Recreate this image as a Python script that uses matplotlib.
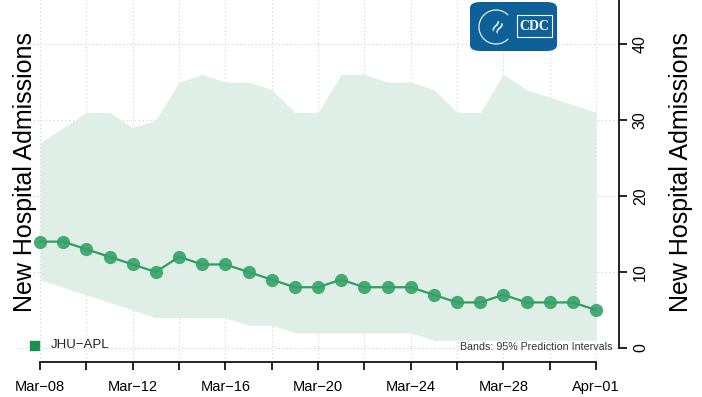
import numpy as np
import matplotlib.pyplot as plt
from matplotlib.patches import FancyBboxPatch, Rectangle, Arc

plt.rcParams['font.family'] = ['Liberation Sans', 'DejaVu Sans']

# daily forecast, Mar-08 .. Apr-01
days = np.arange(25)
tick_labels = ["Mar\u221208", "Mar\u221212", "Mar\u221216", "Mar\u221220",
               "Mar\u221224", "Mar\u221228", "Apr\u221201"]
admissions = [14, 14, 13, 12, 11, 10, 12, 11, 11, 10, 9, 8, 8, 9, 8, 8, 8, 7,
              6, 6, 7, 6, 6, 6, 5]
lower = [9, 8, 7, 6, 5, 4, 4, 4, 4, 3, 3, 2, 2, 2, 2, 2, 2, 1, 1, 1, 1, 1, 1, 1, 1]
upper = [27, 29, 31, 31, 29, 30, 35, 36, 35, 35, 34, 31, 31, 36, 36, 35, 35, 34,
         31, 31, 36, 34, 33, 32, 31]

fig = plt.figure(figsize=(7.02, 3.97), dpi=100, facecolor='w')
W, H = 702, 397
ax = fig.add_axes([18 / W, (H - 362) / H, (619 - 18) / W, 362 / H])
ax.set_xlim(-0.95, 24.99)
ax.set_ylim(-1.84, 45.8)

# grid
for d in range(0, 25, 2):
    ax.axvline(d, color='#c4c4c4', lw=0.7, ls=(0, (1, 3)), zorder=0)
for v in range(0, 50, 10):
    ax.axhline(v, color='#c4c4c4', lw=0.7, ls=(0, (1, 3)), zorder=0)

ax.fill_between(days, lower, upper, color='#dfeee6', lw=0, zorder=1)
ax.plot(days, admissions, color='#2e9e5e', lw=1.6, zorder=2)
ax.plot(days, admissions, 'o', color='#33a266', ms=9.5, mew=0, alpha=0.9, zorder=3)

# axes
for s in ['left', 'top']:
    ax.spines[s].set_visible(False)
ax.spines['bottom'].set_bounds(0, 24)
ax.spines['right'].set_bounds(0, 45.8)
ax.spines['bottom'].set_linewidth(1.2)
ax.spines['right'].set_linewidth(1.2)
ax.yaxis.tick_right()
ax.set_xticks(range(0, 25, 2))
ax.set_xticklabels([tick_labels[i // 4] if i % 4 == 0 else '' for i in range(0, 25, 2)])
ax.set_yticks(range(0, 50, 10))
ax.set_yticklabels([str(v) for v in range(0, 50, 10)], rotation=90, va='center')
ax.tick_params(axis='x', direction='out', length=6, width=1.2, labelsize=10.5, pad=7)
ax.tick_params(axis='y', direction='out', length=6, width=1.2, labelsize=11.5, pad=4)

fig.text(25 / W, 1 - 172 / H, "New Hospital Admissions", rotation=90,
         ha='center', va='center', fontsize=18)
fig.text(681 / W, 1 - 172 / H, "New Hospital Admissions", rotation=90,
         ha='center', va='center', fontsize=18)

# legend and note
fig.patches.append(Rectangle((30 / W, 1 - 350 / H), 9 / W, 9 / H,
                             transform=fig.transFigure, color='#1b8f4c'))
fig.text(51 / W, 1 - 345.5 / H, "JHU\u2212APL", fontsize=9.5, va='center', color='#222222')
fig.text(612 / W, 1 - 347 / H, "Bands: 95% Prediction Intervals", fontsize=7.7,
         ha='right', va='center', color='#333333')

# CDC badge
fig.patches.append(FancyBboxPatch((470 / W, 1 - 51 / H), 87 / W, 49 / H,
                                  boxstyle="round,pad=0,rounding_size=0.015",
                                  transform=fig.transFigure, fc='#0d6198', ec='none'))
fig.patches.append(Arc((496 / W, 1 - 27 / H), 34 / W, 34 / H, theta1=60, theta2=300,
                       transform=fig.transFigure, color='white', lw=0.8))
fig.text(500 / W, 1 - 28 / H, "\u2248", fontsize=16, color='white', ha='center', va='center',
         rotation=60)
fig.patches.append(Rectangle((517 / W, 1 - 37 / H), 35 / W, 22 / H,
                             transform=fig.transFigure, fc='none', ec='white', lw=0.8))
fig.text(534.5 / W, 1 - 26 / H, "CDC", fontsize=10, color='white', ha='center',
         va='center', fontweight='bold', family='Liberation Serif')

fig.savefig('out.png', dpi=100, facecolor='w')
